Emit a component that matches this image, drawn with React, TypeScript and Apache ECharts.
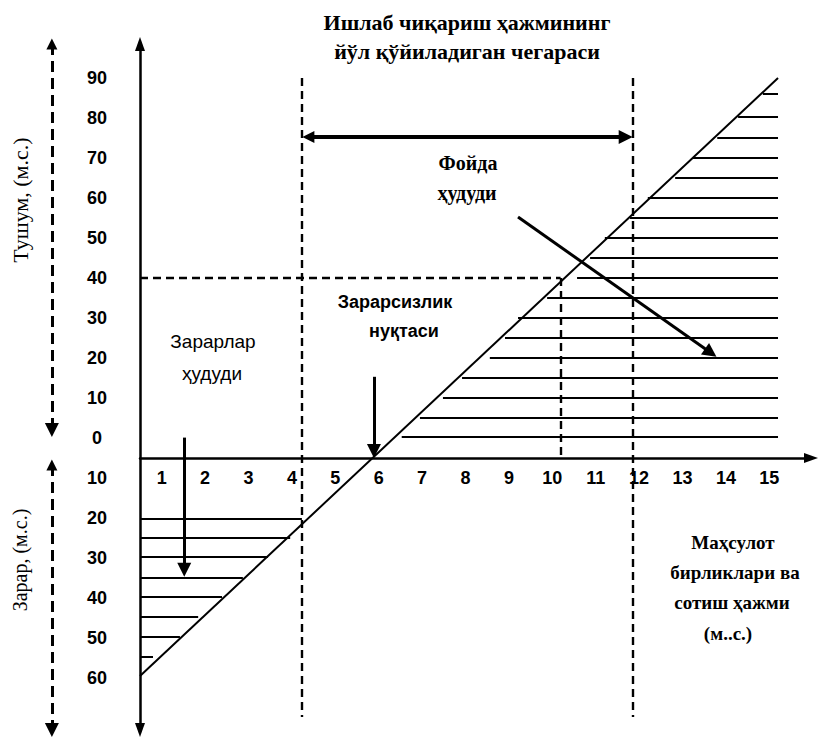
import React, { useEffect, useRef } from "react";
import * as echarts from "echarts";

// ---- tick labels ----
const xTickLabels = ["1", "2", "3", "4", "5", "6", "7", "8", "9", "10", "11", "12", "13", "14", "15"];
const xTickPositions = [0.5, 1.5, 2.5, 3.5, 4.5, 5.5, 6.5, 7.5, 8.5, 9.5, 10.5, 11.5, 12.5, 13.5, 14.5];
const revenueTickLabels = ["0", "10", "20", "30", "40", "50", "60", "70", "80", "90"];
const revenueTickPositions = [5, 15, 25, 35, 45, 55, 65, 75, 85, 95];
const lossTickLabels = ["10", "20", "30", "40", "50", "60"];
const lossTickPositions = [-5, -15, -25, -35, -45, -55];

// ---- break-even line (volume, result) ----
const breakEvenLine = [
  [0, -54.5],
  [14.7, 95],
];

// ---- hatching of the profit zone ----
const profitHatchLevels = [5.25, 10, 15, 20, 25, 30, 35, 40, 45, 50, 55, 60, 65, 70, 75, 80, 85.25, 91];
const profitHatchStarts = [6.03, 6.45, 6.98, 7.42, 8.06, 8.41, 8.71, 9.38, 10.07, 10.37, 10.71, 11.29, 11.7, 12.33, 12.74, 13.3, 13.78, 14.35];
const profitHatchEnd = 14.7;

// ---- hatching of the loss zone ----
const lossHatchLevels = [-15.25, -20, -24.75, -30, -34.75, -39.75, -44.75, -49.75];
const lossHatchEnds = [3.73, 3.46, 2.95, 2.37, 1.89, 1.34, 0.92, 0.3];

// ---- limits & guides ----
const volumeLimits = [3.72, 11.35];
const limitSpan = [95, -64.75];
const targetVolume = 9.69;
const targetRevenue = 45;

// ---- arrows ----
const rangeArrow = [[3.88, 80.25], [11.19, 80.25]];
const profitArrow = [[8.71, 60.25], [13.15, 26.3]];
const breakEvenArrow = [[5.39, 20.3], [5.39, 1.75]];
const lossArrow = [[1.02, 5.1], [1.02, -27.95]];
const outerRevenueAxis = [[-2.03, 103.5], [-2.03, 7]];
const outerLossAxis = [[-2.03, -1.75], [-2.03, -68]];

const BLACK = "#000";

export default function App() {
  const ref = useRef<HTMLDivElement>(null);

  useEffect(() => {
    if (!ref.current) return;
    const chart = echarts.init(ref.current, null, { renderer: "svg" });

    const profitHatch = profitHatchLevels.map((y, i) => ({
      coords: [
        [profitHatchStarts[i], y],
        [profitHatchEnd, y],
      ],
    }));
    const lossHatch = lossHatchLevels.map((y, i) => ({
      coords: [
        [0, y],
        [lossHatchEnds[i], y],
      ],
    }));
    const dashedGuides = [
      ...volumeLimits.map((x) => ({ coords: [[x, limitSpan[0]], [x, limitSpan[1]]] })),
      { coords: [[0, targetRevenue], [targetVolume, targetRevenue]] },
      { coords: [[targetVolume, targetRevenue], [targetVolume, 0]] },
    ];

    const yPos = [...lossTickPositions, ...revenueTickPositions];
    const yLab = [...lossTickLabels, ...revenueTickLabels];

    const serif = "Liberation Serif";
    const sans = "Liberation Sans";

    const txt = (text: string, x: number, y: number, fontFamily: string, fontSize: number, fontWeight: string, rotation = 0) => ({
      type: "text",
      x,
      y,
      rotation,
      style: {
        text,
        fontFamily,
        fontSize,
        fontWeight,
        fill: BLACK,
        align: "center",
        verticalAlign: "middle",
      },
    });

    const yMin = -68;
    const yMax = 103.5;
    const gridTop = 44;
    const gridHeight = 686;
    // distance (px) from grid bottom up to the zero line of the y axis
    const zeroOffset = (gridHeight * (0 - yMin)) / (yMax - yMin);

    chart.setOption({
      animation: false,
      backgroundColor: "#fff",
      grid: { left: 140, top: gridTop, width: 671, height: gridHeight, outerBoundsMode: "none" },
      xAxis: {
        type: "value",
        min: 0,
        max: 15.46,
        position: "bottom",
        offset: -zeroOffset,
        splitLine: { show: false },
        axisTick: { show: false },
        axisLine: {
          onZero: false,
          symbol: ["none", "triangle"],
          symbolSize: [10, 14],
          lineStyle: { color: BLACK, width: 2.5 },
        },
        axisLabel: {
          customValues: xTickPositions,
          formatter: (v: number) => xTickLabels[xTickPositions.indexOf(v)] ?? "",
          fontFamily: sans,
          fontWeight: "bold",
          fontSize: 18,
          color: BLACK,
          margin: 11,
        },
      },
      yAxis: {
        type: "value",
        min: yMin,
        max: yMax,
        splitLine: { show: false },
        axisTick: { show: false },
        axisLine: {
          onZero: true,
          symbol: ["triangle", "triangle"],
          symbolSize: [10, 14],
          lineStyle: { color: BLACK, width: 2.5 },
        },
        axisLabel: {
          customValues: yPos,
          formatter: (v: number) => yLab[yPos.indexOf(v)] ?? "",
          fontFamily: sans,
          fontWeight: "bold",
          fontSize: 18,
          color: BLACK,
          align: "center",
          margin: 43,
        },
      },
      series: [
        {
          type: "line",
          data: breakEvenLine,
          symbol: "none",
          lineStyle: { color: BLACK, width: 2 },
        },
        {
          type: "lines",
          coordinateSystem: "cartesian2d",
          data: profitHatch,
          symbol: "none",
          lineStyle: { color: BLACK, width: 2, opacity: 1 },
        },
        {
          type: "lines",
          coordinateSystem: "cartesian2d",
          data: lossHatch,
          symbol: "none",
          lineStyle: { color: BLACK, width: 2, opacity: 1 },
        },
        {
          type: "lines",
          coordinateSystem: "cartesian2d",
          data: dashedGuides,
          symbol: "none",
          lineStyle: { color: BLACK, width: 2.4, type: [8, 5], opacity: 1 },
        },
        {
          type: "lines",
          coordinateSystem: "cartesian2d",
          data: [{ coords: rangeArrow }],
          symbol: ["triangle", "triangle"],
          symbolSize: [12, 14],
          lineStyle: { color: BLACK, width: 4, opacity: 1 },
        },
        {
          type: "lines",
          coordinateSystem: "cartesian2d",
          data: [{ coords: profitArrow }, { coords: breakEvenArrow }, { coords: lossArrow }],
          symbol: ["none", "triangle"],
          symbolSize: [12, 14],
          lineStyle: { color: BLACK, width: 3, opacity: 1 },
        },
        {
          type: "lines",
          coordinateSystem: "cartesian2d",
          clip: false,
          data: [{ coords: outerRevenueAxis }, { coords: outerLossAxis }],
          symbol: ["triangle", "triangle"],
          symbolSize: [11, 14],
          lineStyle: { color: BLACK, width: 3, type: [11, 6], opacity: 1 },
        },
      ],
      graphic: [
        txt("Ишлаб чиқариш ҳажмининг", 467, 22, serif, 22, "bold"),
        txt("йўл қўйиладиган чегараси", 467, 51, serif, 22, "bold"),
        txt("Фойда", 468, 163, serif, 20, "bold"),
        txt("ҳудуди", 467, 193, serif, 20, "bold"),
        txt("Зарарсизлик", 395, 302, sans, 18, "bold"),
        txt("нуқтаси", 404, 331, sans, 18, "bold"),
        txt("Зарарлар", 213, 341, sans, 19, "normal"),
        txt("ҳудуди", 212, 373, sans, 19, "normal"),
        txt("Маҳсулот", 733, 542, serif, 19, "bold"),
        txt("бирликлари ва", 735, 572, serif, 19, "bold"),
        txt("сотиш ҳажми", 732, 602, serif, 19, "bold"),
        txt("(м..с.)", 728, 633, serif, 19, "bold"),
        txt("Тушум, (м.с.)", 20, 200, serif, 22, "normal", Math.PI / 2),
        txt("Зарар, (м.с.)", 20, 560, serif, 20, "normal", Math.PI / 2),
      ],
    });

    return () => chart.dispose();
  }, []);

  return (
    <div
      ref={ref}
      style={{ position: "absolute", left: 0, top: 0, width: 819, height: 737, background: "#fff" }}
    />
  );
}
